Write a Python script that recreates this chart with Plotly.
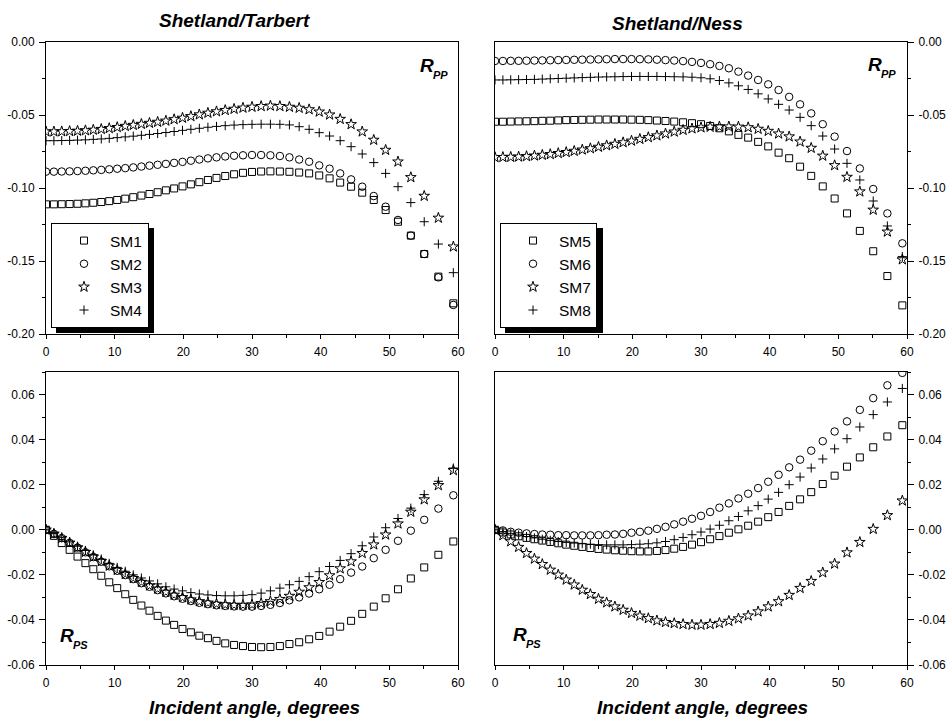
import plotly.graph_objects as go

W, H = 948, 720
FONT = "Liberation Sans, Arial, sans-serif"

# Incident angles (degrees) of the plotted samples
ANGLES = [0.00, 1.15, 2.29, 3.44, 4.59, 5.74, 6.89, 8.05, 9.21, 10.37,
          11.54, 12.71, 13.89, 15.07, 16.26, 17.46, 18.66, 19.88, 21.10, 22.33,
          23.58, 24.83, 26.10, 27.39, 28.69, 30.00, 31.33, 32.68, 34.06, 35.45,
          36.87, 38.32, 39.79, 41.30, 42.84, 44.43, 46.05, 47.73, 49.46, 51.26,
          53.13, 55.08, 57.14, 59.32]

# ---- Shetland/Tarbert, R_PP ----
SM1_RPP = [-0.1112, -0.1112, -0.1111, -0.1110, -0.1108, -0.1105, -0.1101, -0.1096, -0.1090, -0.1082,
           -0.1073, -0.1063, -0.1052, -0.1041, -0.1029, -0.1016, -0.1003, -0.0989, -0.0975, -0.0960,
           -0.0945, -0.0931, -0.0918, -0.0906, -0.0896, -0.0890, -0.0887, -0.0886, -0.0887, -0.0889,
           -0.0894, -0.0900, -0.0914, -0.0934, -0.0963, -0.0991, -0.1032, -0.1082, -0.1151, -0.1231,
           -0.1326, -0.1452, -0.1607, -0.1790]
SM2_RPP = [-0.0888, -0.0888, -0.0887, -0.0886, -0.0884, -0.0882, -0.0879, -0.0876, -0.0872, -0.0868,
           -0.0864, -0.0859, -0.0853, -0.0847, -0.0841, -0.0835, -0.0828, -0.0821, -0.0813, -0.0805,
           -0.0797, -0.0790, -0.0784, -0.0779, -0.0776, -0.0774, -0.0774, -0.0776, -0.0781, -0.0790,
           -0.0805, -0.0820, -0.0845, -0.0868, -0.0900, -0.0941, -0.0991, -0.1055, -0.1128, -0.1219,
           -0.1326, -0.1452, -0.1612, -0.1801]
SM3_RPP = [-0.0614, -0.0614, -0.0613, -0.0611, -0.0609, -0.0606, -0.0602, -0.0597, -0.0591, -0.0584,
           -0.0576, -0.0569, -0.0562, -0.0555, -0.0548, -0.0540, -0.0530, -0.0520, -0.0509, -0.0497,
           -0.0486, -0.0476, -0.0467, -0.0459, -0.0451, -0.0445, -0.0440, -0.0437, -0.0440, -0.0445,
           -0.0452, -0.0462, -0.0478, -0.0498, -0.0528, -0.0564, -0.0614, -0.0671, -0.0740, -0.0820,
           -0.0927, -0.1055, -0.1205, -0.1402]
SM4_RPP = [-0.0676, -0.0676, -0.0675, -0.0674, -0.0672, -0.0670, -0.0667, -0.0664, -0.0660, -0.0655,
           -0.0650, -0.0645, -0.0639, -0.0633, -0.0627, -0.0620, -0.0613, -0.0605, -0.0598, -0.0591,
           -0.0584, -0.0578, -0.0573, -0.0569, -0.0566, -0.0564, -0.0563, -0.0563, -0.0564, -0.0568,
           -0.0580, -0.0598, -0.0621, -0.0644, -0.0676, -0.0717, -0.0767, -0.0826, -0.0900, -0.0991,
           -0.1100, -0.1231, -0.1384, -0.1580]

# ---- Shetland/Ness, R_PP ----
SM5_RPP = [-0.0546, -0.0546, -0.0545, -0.0544, -0.0543, -0.0542, -0.0540, -0.0539, -0.0537, -0.0535,
           -0.0534, -0.0533, -0.0532, -0.0531, -0.0531, -0.0531, -0.0531, -0.0532, -0.0533, -0.0535,
           -0.0538, -0.0541, -0.0545, -0.0550, -0.0556, -0.0563, -0.0575, -0.0591, -0.0612, -0.0636,
           -0.0655, -0.0684, -0.0715, -0.0758, -0.0796, -0.0854, -0.0917, -0.0989, -0.1072, -0.1174,
           -0.1294, -0.1433, -0.1603, -0.1804]
SM6_RPP = [-0.0130, -0.0130, -0.0129, -0.0129, -0.0128, -0.0127, -0.0126, -0.0125, -0.0124, -0.0123,
           -0.0122, -0.0121, -0.0120, -0.0119, -0.0118, -0.0117, -0.0117, -0.0117, -0.0118, -0.0119,
           -0.0121, -0.0124, -0.0127, -0.0131, -0.0136, -0.0143, -0.0152, -0.0164, -0.0180, -0.0203,
           -0.0230, -0.0260, -0.0290, -0.0329, -0.0376, -0.0427, -0.0489, -0.0563, -0.0648, -0.0747,
           -0.0866, -0.1007, -0.1174, -0.1379]
SM7_RPP = [-0.0790, -0.0789, -0.0788, -0.0786, -0.0783, -0.0779, -0.0774, -0.0769, -0.0762, -0.0755,
           -0.0747, -0.0738, -0.0729, -0.0719, -0.0709, -0.0699, -0.0688, -0.0677, -0.0665, -0.0653,
           -0.0641, -0.0628, -0.0615, -0.0603, -0.0593, -0.0586, -0.0582, -0.0580, -0.0580, -0.0581,
           -0.0585, -0.0596, -0.0610, -0.0628, -0.0648, -0.0683, -0.0726, -0.0780, -0.0845, -0.0925,
           -0.1025, -0.1150, -0.1300, -0.1490]
SM8_RPP = [-0.0260, -0.0260, -0.0259, -0.0258, -0.0257, -0.0256, -0.0254, -0.0252, -0.0250, -0.0248,
           -0.0246, -0.0244, -0.0242, -0.0240, -0.0239, -0.0238, -0.0237, -0.0236, -0.0236, -0.0236,
           -0.0236, -0.0237, -0.0238, -0.0239, -0.0241, -0.0245, -0.0252, -0.0264, -0.0280, -0.0300,
           -0.0325, -0.0355, -0.0390, -0.0427, -0.0466, -0.0516, -0.0573, -0.0644, -0.0733, -0.0831,
           -0.0945, -0.1089, -0.1260, -0.1470]

# ---- Shetland/Tarbert, R_PS ----
SM1_RPS = [0.0, -0.0027, -0.0059, -0.0089, -0.0119, -0.0148, -0.0175, -0.0204, -0.0233, -0.0259,
           -0.0286, -0.0311, -0.0336, -0.0359, -0.0382, -0.0403, -0.0422, -0.0440, -0.0455, -0.0470,
           -0.0481, -0.0493, -0.0504, -0.0511, -0.0516, -0.0520, -0.0521, -0.0520, -0.0516, -0.0507,
           -0.0499, -0.0486, -0.0471, -0.0452, -0.0430, -0.0404, -0.0373, -0.0341, -0.0304, -0.0264,
           -0.0216, -0.0167, -0.0111, -0.0052]
SM2_RPS = [0.0, -0.0018, -0.0037, -0.0058, -0.0079, -0.0100, -0.0121, -0.0142, -0.0162, -0.0182,
           -0.0201, -0.0219, -0.0237, -0.0253, -0.0268, -0.0282, -0.0295, -0.0306, -0.0316, -0.0324,
           -0.0330, -0.0335, -0.0338, -0.0340, -0.0341, -0.0341, -0.0338, -0.0333, -0.0325, -0.0313,
           -0.0300, -0.0283, -0.0264, -0.0244, -0.0219, -0.0190, -0.0163, -0.0126, -0.0089, -0.0049,
           -0.0004, 0.0044, 0.0094, 0.0153]
SM3_RPS = [0.0, -0.0018, -0.0037, -0.0058, -0.0079, -0.0099, -0.0120, -0.0140, -0.0160, -0.0179,
           -0.0197, -0.0215, -0.0232, -0.0248, -0.0262, -0.0276, -0.0289, -0.0300, -0.0310, -0.0318,
           -0.0324, -0.0329, -0.0332, -0.0334, -0.0334, -0.0332, -0.0326, -0.0318, -0.0308, -0.0294,
           -0.0276, -0.0256, -0.0233, -0.0203, -0.0172, -0.0141, -0.0104, -0.0066, -0.0022, 0.0027,
           0.0079, 0.0134, 0.0197, 0.0264]
SM4_RPS = [0.0, -0.0017, -0.0035, -0.0054, -0.0073, -0.0092, -0.0111, -0.0130, -0.0149, -0.0167,
           -0.0184, -0.0200, -0.0214, -0.0227, -0.0240, -0.0253, -0.0263, -0.0271, -0.0279, -0.0285,
           -0.0289, -0.0292, -0.0293, -0.0293, -0.0291, -0.0288, -0.0281, -0.0271, -0.0259, -0.0244,
           -0.0229, -0.0208, -0.0186, -0.0163, -0.0136, -0.0106, -0.0071, -0.0032, 0.0009, 0.0050,
           0.0096, 0.0156, 0.0215, 0.0274]

# ---- Shetland/Ness, R_PS ----
SM5_RPS = [0.0, -0.0012, -0.0021, -0.0029, -0.0036, -0.0042, -0.0048, -0.0054, -0.0060, -0.0066,
           -0.0071, -0.0076, -0.0081, -0.0085, -0.0088, -0.0091, -0.0093, -0.0095, -0.0096, -0.0096,
           -0.0094, -0.0090, -0.0084, -0.0076, -0.0066, -0.0055, -0.0042, -0.0028, -0.0013, 0.0002,
           0.0018, 0.0036, 0.0056, 0.0079, 0.0106, 0.0135, 0.0167, 0.0203, 0.0240, 0.0280,
           0.0321, 0.0366, 0.0414, 0.0464]
SM6_RPS = [0.0, -0.0003, -0.0009, -0.0013, -0.0016, -0.0019, -0.0021, -0.0022, -0.0024, -0.0024,
           -0.0025, -0.0025, -0.0025, -0.0024, -0.0022, -0.0021, -0.0018, -0.0013, -0.0009, -0.0004,
           0.0004, 0.0013, 0.0024, 0.0036, 0.0049, 0.0062, 0.0079, 0.0098, 0.0117, 0.0139,
           0.0160, 0.0185, 0.0213, 0.0244, 0.0277, 0.0311, 0.0351, 0.0393, 0.0436, 0.0481,
           0.0532, 0.0584, 0.0641, 0.0696]
SM7_RPS = [0.0, -0.0025, -0.0052, -0.0077, -0.0104, -0.0129, -0.0153, -0.0178, -0.0200, -0.0222,
           -0.0244, -0.0267, -0.0286, -0.0307, -0.0323, -0.0341, -0.0356, -0.0370, -0.0382, -0.0393,
           -0.0403, -0.0410, -0.0415, -0.0419, -0.0422, -0.0422, -0.0419, -0.0414, -0.0405, -0.0394,
           -0.0381, -0.0363, -0.0341, -0.0318, -0.0290, -0.0259, -0.0228, -0.0190, -0.0151, -0.0101,
           -0.0055, 0.0003, 0.0064, 0.0129]
SM8_RPS = [0.0, -0.0008, -0.0016, -0.0023, -0.0030, -0.0036, -0.0042, -0.0047, -0.0052, -0.0056,
           -0.0059, -0.0062, -0.0064, -0.0066, -0.0067, -0.0067, -0.0067, -0.0066, -0.0064, -0.0062,
           -0.0058, -0.0052, -0.0044, -0.0034, -0.0022, -0.0010, 0.0003, 0.0020, 0.0040, 0.0059,
           0.0084, 0.0107, 0.0136, 0.0166, 0.0200, 0.0234, 0.0274, 0.0314, 0.0359, 0.0404,
           0.0456, 0.0511, 0.0567, 0.0627]

NAMES_L = ["SM1", "SM2", "SM3", "SM4"]
NAMES_R = ["SM5", "SM6", "SM7", "SM8"]
SYMBOLS = ["square-open", "circle-open", "star-open", "cross-thin-open"]
SIZES = [7, 7.5, 8, 6.5]

PANEL_TITLES = ["Shetland/Tarbert", "Shetland/Ness"]
X_TITLE = "Incident angle, degrees"
X_TICKS = [0, 10, 20, 30, 40, 50, 60]
X_TICKTEXT = ["0", "10", "20", "30", "40", "50", "60"]
X_MINOR = [5, 15, 25, 35, 45, 55]
RPP_TICKS = [0.0, -0.05, -0.10, -0.15, -0.20]
RPP_TICKTEXT = ["0.00", "-0.05", "-0.10", "-0.15", "-0.20"]
RPP_MINOR = [-0.025, -0.075, -0.125, -0.175]
RPS_TICKS = [0.06, 0.04, 0.02, 0.0, -0.02, -0.04, -0.06]
RPS_TICKTEXT = ["0.06", "0.04", "0.02", "0.00", "-0.02", "-0.04", "-0.06"]
RPS_MINOR = [0.07, 0.05, 0.03, 0.01, -0.01, -0.03, -0.05]


def px_x(p):
    return p / W


def px_y(p):
    return 1 - p / H


fig = go.Figure()

panels = [
    ("x", "y", [SM1_RPP, SM2_RPP, SM3_RPP, SM4_RPP], NAMES_L, "legend", True),
    ("x2", "y2", [SM5_RPP, SM6_RPP, SM7_RPP, SM8_RPP], NAMES_R, "legend2", True),
    ("x3", "y3", [SM1_RPS, SM2_RPS, SM3_RPS, SM4_RPS], NAMES_L, "legend", False),
    ("x4", "y4", [SM5_RPS, SM6_RPS, SM7_RPS, SM8_RPS], NAMES_R, "legend2", False),
]
for xa, ya, series, names, leg, show in panels:
    for vals, name, sym, sz in zip(series, names, SYMBOLS, SIZES):
        fig.add_trace(go.Scatter(
            x=ANGLES, y=vals, mode="markers", name=name,
            xaxis=xa, yaxis=ya, legend=leg, showlegend=show,
            marker=dict(symbol=sym, size=sz, color="black",
                        line=dict(color="black", width=1)),
        ))

dom_xl = [px_x(46), px_x(458)]
dom_xr = [px_x(495), px_x(907)]
dom_yt = [px_y(334), px_y(42)]
dom_yb = [px_y(665), px_y(372)]

tickfont = dict(family=FONT, size=12, color="black")


def xaxis(domain, anchor):
    return dict(domain=domain, anchor=anchor, range=[0, 60],
                tickmode="array", tickvals=X_TICKS, ticktext=X_TICKTEXT,
                ticks="outside", ticklen=4, tickwidth=1, tickcolor="black",
                minor=dict(tickmode="array", tickvals=X_MINOR, ticks="outside",
                           ticklen=3, tickwidth=1, tickcolor="black"),
                showline=True, linecolor="black", linewidth=1, mirror=True,
                showgrid=False, zeroline=False, tickfont=tickfont,
                ticklabelstandoff=3, automargin=False)


def yaxis(domain, anchor, rng, tv, tt, mv, side):
    return dict(domain=domain, anchor=anchor, range=rng, side=side,
                tickmode="array", tickvals=tv, ticktext=tt,
                ticks="outside", ticklen=6, tickwidth=1, tickcolor="black",
                minor=dict(tickmode="array", tickvals=mv, ticks="outside",
                           ticklen=3, tickwidth=1, tickcolor="black"),
                showline=True, linecolor="black", linewidth=1, mirror=True,
                showgrid=False, zeroline=False, tickfont=tickfont,
                ticklabelstandoff=2, automargin=False)


def x_mirror(over, anchor):
    return dict(overlaying=over, anchor=anchor, side="top", range=[0, 60],
                tickmode="array", tickvals=X_TICKS, showticklabels=False,
                ticks="inside", ticklen=3, tickwidth=1, tickcolor="black",
                minor=dict(tickmode="array", tickvals=X_MINOR, ticks="inside",
                           ticklen=2, tickwidth=1, tickcolor="black"),
                showline=False, showgrid=False, zeroline=False)


def y_mirror(over, anchor, rng, tv, mv, side):
    return dict(overlaying=over, anchor=anchor, side=side, range=rng,
                tickmode="array", tickvals=tv, showticklabels=False,
                ticks="inside", ticklen=3, tickwidth=1, tickcolor="black",
                minor=dict(tickmode="array", tickvals=mv, ticks="inside",
                           ticklen=2, tickwidth=1, tickcolor="black"),
                showline=False, showgrid=False, zeroline=False)


legend_common = dict(bgcolor="white", bordercolor="black", borderwidth=1,
                     font=dict(family=FONT, size=15.5, color="black"),
                     xanchor="left", yanchor="top", traceorder="normal",
                     indentation=6, itemwidth=42, tracegroupgap=0)

fig.update_layout(
    width=W, height=H,
    margin=dict(l=0, r=0, t=0, b=0),
    paper_bgcolor="white", plot_bgcolor="white",
    font=dict(family=FONT, color="black"),
    xaxis=xaxis(dom_xl, "y"),
    yaxis=yaxis(dom_yt, "x", [-0.2, 0.0], RPP_TICKS, RPP_TICKTEXT, RPP_MINOR, "left"),
    xaxis2=xaxis(dom_xr, "y2"),
    yaxis2=yaxis(dom_yt, "x2", [-0.2, 0.0], RPP_TICKS, RPP_TICKTEXT, RPP_MINOR, "right"),
    xaxis3=xaxis(dom_xl, "y3"),
    yaxis3=yaxis(dom_yb, "x3", [-0.06, 0.07], RPS_TICKS, RPS_TICKTEXT, RPS_MINOR, "left"),
    xaxis4=xaxis(dom_xr, "y4"),
    yaxis4=yaxis(dom_yb, "x4", [-0.06, 0.07], RPS_TICKS, RPS_TICKTEXT, RPS_MINOR, "right"),
    # inward ticks on the opposite (mirrored) sides of each panel
    xaxis5=x_mirror("x", "y"),
    xaxis6=x_mirror("x2", "y2"),
    xaxis7=x_mirror("x3", "y3"),
    xaxis8=x_mirror("x4", "y4"),
    yaxis5=y_mirror("y", "x", [-0.2, 0.0], RPP_TICKS, RPP_MINOR, "right"),
    yaxis6=y_mirror("y2", "x2", [-0.2, 0.0], RPP_TICKS, RPP_MINOR, "left"),
    yaxis7=y_mirror("y3", "x3", [-0.06, 0.07], RPS_TICKS, RPS_MINOR, "right"),
    yaxis8=y_mirror("y4", "x4", [-0.06, 0.07], RPS_TICKS, RPS_MINOR, "left"),
    legend=dict(x=px_x(51), y=px_y(223), **legend_common),
    legend2=dict(x=px_x(500), y=px_y(223), **legend_common),
)

# legend drop shadows
for lx in (51, 500):
    fig.add_shape(type="rect", xref="paper", yref="paper",
                  x0=px_x(lx + 5), x1=px_x(lx + 103), y0=px_y(333), y1=px_y(228),
                  fillcolor="black", line=dict(width=0), layer="above")

bi = dict(family=FONT, color="black")
anns = []
# panel titles
for txt, cx, cy in [(PANEL_TITLES[0], 234, 20), (PANEL_TITLES[1], 677, 23)]:
    anns.append(dict(text=f"<b><i>{txt}</i></b>", x=px_x(cx), y=px_y(cy),
                     xref="paper", yref="paper", showarrow=False,
                     xanchor="center", yanchor="middle", font=dict(size=19, **bi)))
# x axis titles
for cx in (254, 702):
    anns.append(dict(text=f"<b><i>{X_TITLE}</i></b>", x=px_x(cx), y=px_y(707),
                     xref="paper", yref="paper", showarrow=False,
                     xanchor="center", yanchor="middle", font=dict(size=19, **bi)))
# R labels
for rx, ry, sub in [(418, 65, "PP"), (866, 64, "PP"), (58, 635, "PS"), (511, 634, "PS")]:
    anns.append(dict(text="<b><i>R</i></b>", x=px_x(rx), y=px_y(ry),
                     xref="paper", yref="paper", showarrow=False,
                     xanchor="left", yanchor="middle", font=dict(size=19, **bi)))
    anns.append(dict(text=f"<b><i>{sub}</i></b>", x=px_x(rx + 13), y=px_y(ry + 10),
                     xref="paper", yref="paper", showarrow=False,
                     xanchor="left", yanchor="middle", font=dict(size=11, **bi)))
fig.update_layout(annotations=anns)

fig.write_html("out.html")
